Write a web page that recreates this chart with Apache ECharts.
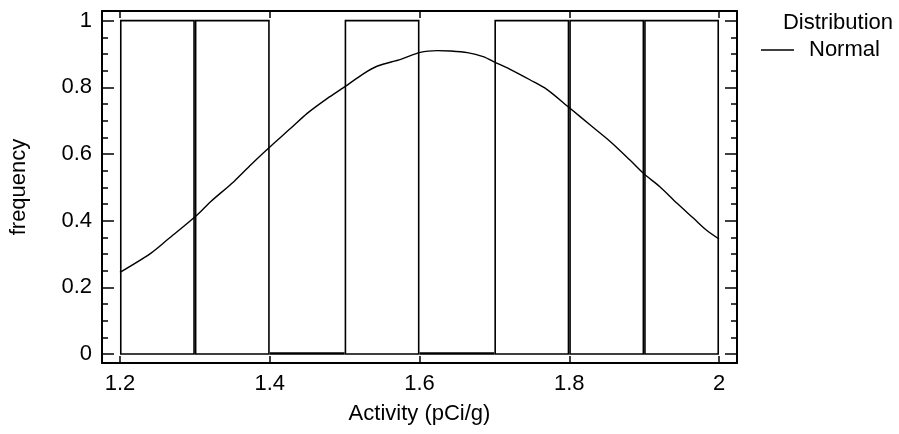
<!DOCTYPE html>
<html>
<head>
<meta charset="utf-8">
<script src="https://cdn.jsdelivr.net/npm/echarts@6/dist/echarts.min.js"></script>
<style>
  html, body { margin: 0; padding: 0; background: #fff; }
  #chart { width: 899px; height: 434px; }
</style>
</head>
<body>
<div id="chart"></div>
<script>
// Histogram bins (Activity, pCi/g) and frequencies
const binStart = [1.2, 1.3, 1.4, 1.5, 1.6, 1.7, 1.8, 1.9];
const binEnd   = [1.3, 1.4, 1.5, 1.6, 1.7, 1.8, 1.9, 2.0];
const binCount = [1, 1, 0, 1, 0, 1, 1, 1];

// Fitted normal curve
const curveX = [1.2, 1.241, 1.264, 1.303, 1.321, 1.352, 1.379, 1.402, 1.428, 1.450, 1.477, 1.499, 1.526, 1.544, 1.575, 1.601, 1.624, 1.641, 1.664, 1.685, 1.701, 1.721, 1.748, 1.770, 1.801, 1.828, 1.855, 1.881, 1.900, 1.921, 1.944, 1.966, 1.983, 2.0];
const curveY = [0.245, 0.302, 0.344, 0.417, 0.457, 0.517, 0.577, 0.625, 0.677, 0.722, 0.767, 0.800, 0.842, 0.864, 0.884, 0.905, 0.910, 0.909, 0.904, 0.892, 0.875, 0.854, 0.822, 0.794, 0.737, 0.687, 0.637, 0.582, 0.540, 0.502, 0.452, 0.407, 0.372, 0.345];

const xTitle = 'Activity (pCi/g)';
const yTitle = 'frequency';
const legendTitle = 'Distribution';
const curveName = 'Normal';

const FONT = '"Liberation Sans", Arial, Helvetica, sans-serif';
const FS = 22;
const X_MIN = 1.176, X_MAX = 2.024;
const Y_MIN = -0.027, Y_MAX = 1.029;

const histData = binStart.map((s, i) => [s, binEnd[i], binCount[i]]);
const curveData = curveX.map((x, i) => [x, curveY[i]]);

const chart = echarts.init(document.getElementById('chart'), null, { renderer: 'canvas' });

function xAxisCfg(pos, showLabels) {
  return {
    type: 'value', position: pos, min: X_MIN, max: X_MAX,
    splitNumber: 4, minInterval: 0.2, maxInterval: 0.2,
    axisLine: { show: true, onZero: false, lineStyle: { color: '#000', width: 2 } },
    axisTick: { show: true, inside: true, length: 7, lineStyle: { color: '#000', width: 1.5 } },
    axisLabel: { show: showLabels, showMinLabel: false, showMaxLabel: false, margin: 10,
                 color: '#000', fontSize: FS, fontFamily: FONT },
    splitLine: { show: false },
    name: showLabels ? xTitle : '',
    nameLocation: 'middle', nameGap: 40,
    nameTextStyle: { color: '#000', fontSize: FS, fontFamily: FONT }
  };
}
function yAxisCfg(pos, major, showLabels) {
  return {
    type: 'value', position: pos, min: Y_MIN, max: Y_MAX,
    splitNumber: major ? 5 : 21,
    minInterval: major ? 0.2 : 0.05, maxInterval: major ? 0.2 : 0.05,
    axisLine: { show: major, onZero: false, lineStyle: { color: '#000', width: 2 } },
    axisTick: { show: true, inside: true, length: major ? 12 : 6, lineStyle: { color: '#000', width: 1.5 } },
    axisLabel: { show: showLabels, showMinLabel: false, showMaxLabel: false, margin: 10,
                 color: '#000', fontSize: FS, fontFamily: FONT },
    splitLine: { show: false },
    name: showLabels ? yTitle : '',
    nameLocation: 'middle', nameGap: 72, nameRotate: 90,
    nameTextStyle: { color: '#000', fontSize: FS, fontFamily: FONT }
  };
}

chart.setOption({
  animation: false,
  backgroundColor: '#fff',
  grid: { left: 101, right: 162, top: 11, bottom: 71, containLabel: false },
  title: {
    text: legendTitle, right: 1, top: 6, padding: 5,
    textStyle: { color: '#000', fontSize: FS, fontWeight: 'normal', fontFamily: FONT, lineHeight: 24 }
  },
  legend: {
    left: 761, top: 38, padding: 0,
    data: [{ name: curveName, icon: 'rect' }],
    itemWidth: 33, itemHeight: 1.5,
    textStyle: { color: '#000', fontSize: FS, fontFamily: FONT, lineHeight: 24, padding: [0, 0, 0, 10] },
    selectedMode: false
  },
  xAxis: [ xAxisCfg('bottom', true), xAxisCfg('top', false) ],
  yAxis: [ yAxisCfg('left', true, true), yAxisCfg('right', true, false),
           yAxisCfg('left', false, false), yAxisCfg('right', false, false) ],
  series: [
    {
      name: 'Histogram', type: 'custom', xAxisIndex: 0, yAxisIndex: 0,
      encode: { x: [0, 1], y: 2 },
      data: histData,
      renderItem: function (params, api) {
        const p0 = api.coord([api.value(0), api.value(2)]);
        const p1 = api.coord([api.value(1), 0]);
        const x0 = p0[0] + 0.8, x1 = p1[0] - 0.8;
        const yTop = Math.min(p0[1], p1[1] - 1), yBot = p1[1];
        return {
          type: 'polygon',
          shape: { points: [[x0, yBot], [x0, yTop], [x1, yTop], [x1, yBot]] },
          style: { fill: 'none', stroke: '#000', lineWidth: 1.6 }
        };
      },
      z: 2
    },
    {
      name: curveName, type: 'line', xAxisIndex: 0, yAxisIndex: 0,
      data: curveData, showSymbol: false, symbol: 'none', smooth: 0.3,
      lineStyle: { color: '#000', width: 1.4 }, itemStyle: { color: '#000' },
      z: 3
    }
  ]
});
</script>
</body>
</html>
